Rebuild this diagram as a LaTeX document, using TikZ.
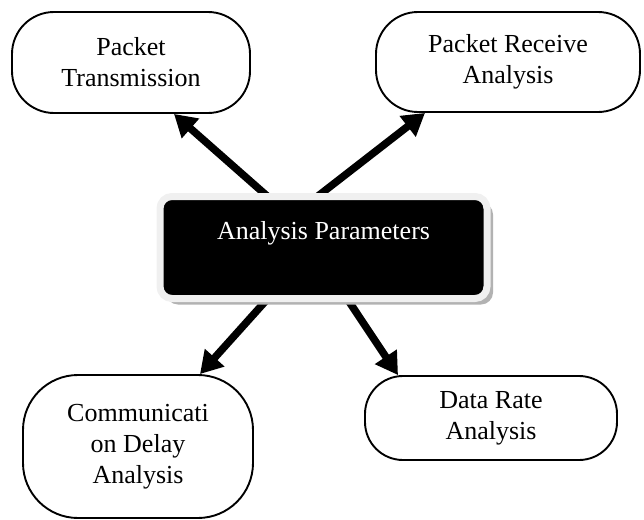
\documentclass[tikz,border=0pt]{standalone}
\usepackage{fontspec}
\setmainfont{Liberation Serif}
\usetikzlibrary{arrows.meta,shadows,backgrounds}
\begin{document}
\begin{tikzpicture}[x=1pt,y=-1pt,
  leaf/.style={draw=black, line width=1.9pt, fill=white, align=center,
    font=\fontsize{26}{31}\selectfont, inner sep=0pt},
  hub/.style={fill=black, draw=gray!12, line width=7pt, rounded corners=12pt,
    minimum width=327pt, minimum height=102pt,
    drop shadow={shadow xshift=6pt, shadow yshift=-6pt, fill=gray!60, opacity=1}},
  hubtext/.style={text=white, font=\fontsize{26}{31}\selectfont, inner sep=0pt},
  link/.style={line width=7.5pt, -{Triangle[length=22pt,width=25pt]}}]
\useasboundingbox (0,0) rectangle (644,519);

% outer result boxes
\node[leaf, rounded corners=42pt, minimum width=238pt, minimum height=101pt]
  (tl) at (131,62.5) {Packet\\Transmission};
\node[leaf, rounded corners=42pt, minimum width=264pt, minimum height=100pt]
  (tr) at (508,62) {Packet Receive\\Analysis};
\node[leaf, rounded corners=55pt, minimum width=230pt, minimum height=143pt]
  (bl) at (138,446.5) {Communicati\\on Delay\\Analysis};
\node[leaf, rounded corners=38pt, minimum width=252pt, minimum height=84pt]
  (br) at (491,418) {Data Rate\\Analysis};

% central box
\node[hub] (hub) at (323.5,247.5) {};
\node[hubtext] (hublabel) at ([yshift=14pt]hub.center) {Analysis Parameters};

% arrows start behind the central box
\coordinate (a1) at (283,210);
\coordinate (a2) at (300,210);
\coordinate (a3) at (280,285);
\coordinate (a4) at (338,285);
\begin{scope}[on background layer]
  \draw[link] (a1) -- ([xshift=43pt]tl.south);
  \draw[link] (a2) -- ([xshift=-83pt]tr.south);
  \draw[link] (a3) -- ([xshift=62pt]bl.north);
  \draw[link] (a4) -- ([xshift=-93pt]br.north);
\end{scope}
\end{tikzpicture}
\end{document}
